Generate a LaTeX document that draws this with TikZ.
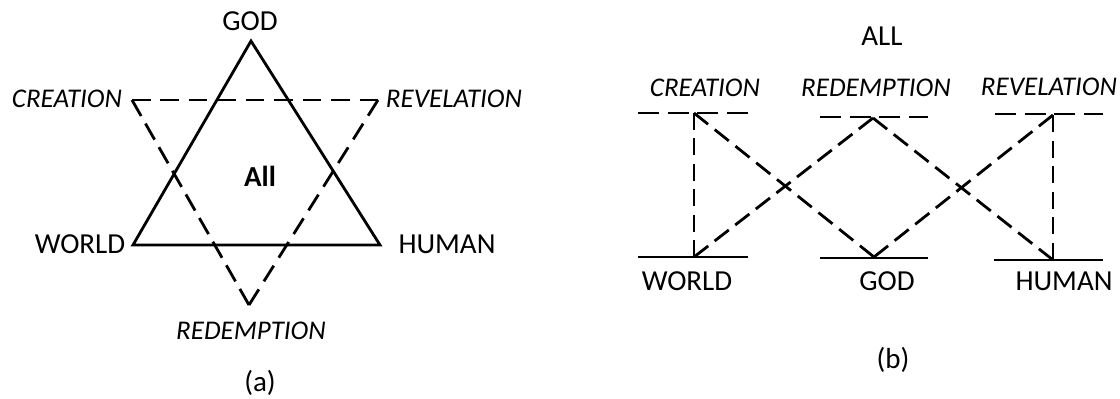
\documentclass[tikz,border=0pt]{standalone}
\usepackage{fontspec}
\setmainfont{Carlito}
\begin{document}
\begin{tikzpicture}[x=1pt,y=-1pt,
  solidln/.style={line width=2.8pt, line join=miter},
  dashln/.style={line width=2.8pt, dash pattern=on #1 off 9pt},
  dashln/.default=18pt,
  lbl/.style={inner sep=0pt, anchor=center, font=\fontsize{29}{34}\selectfont},
  ilbl/.style={lbl, font=\fontsize{27}{32}\selectfont\itshape}]
\useasboundingbox (0,0) rectangle (1120,399);
% ---------- panel (a) ----------
\coordinate (aG) at (251,41);
\coordinate (aW) at (133,245);
\coordinate (aH) at (380,245);
\coordinate (aC) at (132,100);
\coordinate (aV) at (378,100);
\coordinate (aR) at (249,305);
\draw[solidln] (aG) -- (aH) -- (aW) -- cycle;
\draw[line width=2.8pt, dash pattern=on 18.5pt off 9.94pt] (aC) -- (aV);
\draw[line width=2.8pt, dash pattern=on 18.5pt off 9.46pt] (aR) -- (aV);
\draw[line width=2.8pt, dash pattern=on 18.5pt off 8.7pt] (aR) -- (aC);
\node[lbl] (aGod) at (250,21) {GOD};
\node[ilbl] (aCre) at (67,99) {CREATION};
\node[ilbl] (aRev) at (454,99) {REVELATION};
\node[lbl] (aWor) at (80,244) {WORLD};
\node[lbl] (aHum) at (447,244) {HUMAN};
\node[ilbl] (aRed) at (251,331) {REDEMPTION};
\node[lbl, font=\fontsize{29}{34}\selectfont\bfseries] (aAll) at (260,176) {All};
\node[lbl] (aCap) at (260,383) {(a)};
% ---------- panel (b) ----------
\coordinate (bc) at (694,113);
\coordinate (bcL) at (638,113);
\coordinate (bcR) at (748,113);
\coordinate (br) at (873,118);
\coordinate (brL) at (820,117);
\coordinate (brR) at (928,117);
\coordinate (bv) at (1053,115);
\coordinate (bvL) at (995,114);
\coordinate (bvR) at (1103,114);
\coordinate (bw) at (694,257);
\coordinate (bwL) at (638,257);
\coordinate (bwR) at (748,257);
\coordinate (bg) at (874,257);
\coordinate (bgL) at (820,258);
\coordinate (bgR) at (928,258);
\coordinate (bh) at (1053,260);
\coordinate (bhL) at (994,260);
\coordinate (bhR) at (1103,260);
\draw[line width=2.8pt, dash pattern=on 21pt off 8.67pt] (bcL) -- (bcR);
\draw[line width=2.8pt, dash pattern=on 21pt off 8.67pt] (brL) -- (brR);
\draw[line width=2.8pt, dash pattern=on 21pt off 8.67pt] (bvL) -- (bvR);
\draw[solidln] (bwL) -- (bwR);
\draw[solidln] (bgL) -- (bgR);
\draw[solidln] (bhL) -- (bhR);
\draw[line width=2.8pt, dash pattern=on 17pt off 8.4pt] (bc) -- (bw);
\draw[line width=2.8pt, dash pattern=on 18pt off 8.56pt] (bc) -- (bg);
\draw[line width=2.8pt, dash pattern=on 18pt off 8.08pt] (bw) -- (br);
\draw[line width=2.8pt, dash pattern=on 18pt off 8.41pt] (br) -- (bh);
\draw[line width=2.8pt, dash pattern=on 18pt off 8.31pt] (bg) -- (bv);
\draw[line width=2.8pt, dash pattern=on 17pt off 8.6pt] (bv) -- (bh);
\node[lbl] (bAll) at (882,36) {ALL};
\node[ilbl] (bCre) at (705,88) {CREATION};
\node[ilbl] (bRed) at (876,88) {REDEMPTION};
\node[ilbl] (bRev) at (1049,87) {REVELATION};
\node[lbl] (bWor) at (687,281) {WORLD};
\node[lbl] (bGod) at (887,281) {GOD};
\node[lbl] (bHum) at (1064,281) {HUMAN};
\node[lbl] (bCap) at (893,360) {(b)};
\end{tikzpicture}
\end{document}
